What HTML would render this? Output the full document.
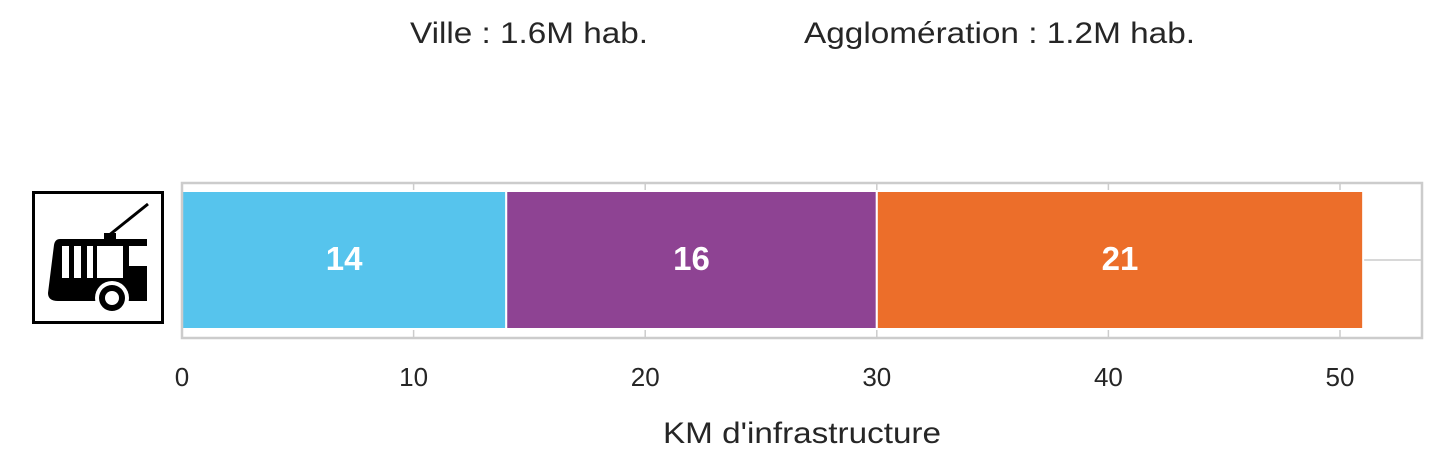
<!DOCTYPE html>
<html><head><meta charset="utf-8"><style>
body{margin:0;background:#fff;}
svg text{font-family:"Liberation Sans",Arial,sans-serif;}
</style></head><body>
<svg width="1442" height="471" xmlns="http://www.w3.org/2000/svg">
<text x="410" y="43" font-size="30" fill="#262626" textLength="238" lengthAdjust="spacingAndGlyphs">Ville : 1.6M hab.</text>
<text x="804" y="43" font-size="30" fill="#262626" textLength="391" lengthAdjust="spacingAndGlyphs">Agglomération : 1.2M hab.</text>
<g id="icon">
<rect x="33.5" y="192.5" width="129" height="130" fill="#fff" stroke="#000" stroke-width="3"/>
<line x1="108" y1="236" x2="148" y2="204" stroke="#000" stroke-width="3"/>
<rect x="104" y="233" width="12" height="7" fill="#000"/>
<path d="M56 239 H147 V301 H58 Q48 301 48 293 L54 245 Q55 239 60 239 Z" fill="#000"/>
<rect x="62" y="246" width="7" height="32" fill="#fff"/>
<rect x="74" y="246" width="7" height="32" fill="#fff"/>
<rect x="87" y="246" width="6" height="32" fill="#fff"/>
<rect x="97" y="246" width="26" height="32" fill="#fff"/>
<rect x="129" y="246" width="18" height="20" fill="#fff"/>
<circle cx="112" cy="298" r="17" fill="#fff"/>
<circle cx="112" cy="298" r="13" fill="#000"/>
<circle cx="112" cy="298" r="7" fill="#fff"/>
</g>
<g id="plot"></g>
</svg>
<script>
const categories=["Segment 1","Segment 2","Segment 3"];
const values=[14,16,21];
const colors=["#56c4ed","#8e4393","#ec6e2a"];
const ticks=[0,10,20,30,40,50];
const xAxisTitle="KM d'infrastructure";
const NS="http://www.w3.org/2000/svg";
const g=document.getElementById('plot');
const x0=182,pxPer=23.16;
const X=v=>x0+v*pxPer;
function mk(t,a){const e=document.createElementNS(NS,t);for(const k in a)e.setAttribute(k,a[k]);g.appendChild(e);return e;}
ticks.forEach(t=>{
 const gl=mk('line',{x1:X(t),x2:X(t),y1:183,y2:338,stroke:'#cccccc','stroke-width':1.5});
 
 
 const tl=mk('text',{x:X(t),y:386,'font-size':26,fill:'#262626','text-anchor':'middle'});
 tl.textContent=t;
 
 
});
const hg=mk('line',{x1:182,x2:1422,y1:260,y2:260,stroke:'#cccccc','stroke-width':1.5});


let cum=0;
values.forEach((v,i)=>{
 const r=mk('rect',{x:X(cum),y:191,width:v*pxPer,height:138,fill:colors[i],stroke:'#fff','stroke-width':2});
 
 
 const t=mk('text',{x:X(cum+v/2),y:270,'font-size':33,'font-weight':'bold',fill:'#fff','text-anchor':'middle'});
 t.textContent=v;
 
 
 cum+=v;
});
const fr=mk('rect',{x:182,y:183,width:1240,height:155,fill:'none',stroke:'#cccccc','stroke-width':2.5});


const at=mk('text',{x:663,y:443,'font-size':30,fill:'#262626',textLength:278,lengthAdjust:'spacingAndGlyphs'});
at.textContent=xAxisTitle;


</script>
</body></html>
